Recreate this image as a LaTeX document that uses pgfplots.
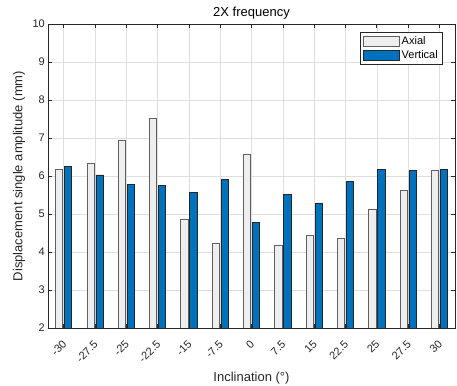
\documentclass[border=0pt]{standalone}
\usepackage{pgfplots}
\pgfplotsset{compat=1.18}
\usepackage{fontspec}
\setmainfont{Liberation Sans}
\definecolor{mblue}{RGB}{0,114,189}
\definecolor{axgray}{RGB}{38,38,38}
\definecolor{lgray}{RGB}{238,238,238}
\definecolor{egray}{RGB}{95,95,95}
\pgfplotsset{boxlegend/.style={legend image code/.code={\draw[##1] (0pt,-5pt) rectangle (36pt,5pt);}}}
\begin{document}
\begin{tikzpicture}
\begin{axis}[name=ax,
  scale only axis, width=407pt, height=304pt,
  xmin=-0.5, xmax=12.5, ymin=2, ymax=10,
  xtick={0,...,12},
  xticklabels={-30,-27.5,-25,-22.5,-15,-7.5,0,7.5,15,22.5,25,27.5,30},
  ytick={2,...,10},
  /pgf/number format/assume math mode=true,
  tick align=inside, major tick length=4pt,
  grid=major, grid style={color=black!13, line width=0.4pt},
  axis line style={color=axgray, line width=0.5pt},
  tick style={color=axgray, line width=0.5pt},
  ticklabel style={font=\fontsize{11}{13}\selectfont, color=axgray},
  xticklabel style={inner sep=0pt, yshift=-14.5pt, xshift=1pt, rotate=45, anchor=east},
  yticklabel style={inner sep=0pt, xshift=-3pt},
  xlabel={Inclination (°)},
  ylabel={Displacement single amplitude (mm)},
  label style={font=\fontsize{13}{15}\selectfont, color=axgray},
  xlabel style={yshift=-5pt},
  ylabel style={yshift=4pt},
  title={2X frequency},
  title style={font=\fontsize{13}{15}\selectfont, color=black, yshift=-5pt},
  legend style={at={(1,1)}, anchor=north east, xshift=-12.5pt, yshift=-8pt,
    draw=axgray, font=\fontsize{11}{13}\selectfont, inner xsep=2pt, inner ysep=1.5pt,
    row sep=0pt, cells={anchor=west}, nodes={inner sep=2.5pt}},
  legend cell align=left,
]
\addplot[ybar, bar width=7.2pt, bar shift=-4.5pt, fill=lgray, draw=egray, line width=0.6pt, boxlegend]
  coordinates {(0,6.18) (1,6.34) (2,6.95) (3,7.53) (4,4.85) (5,4.24) (6,6.56)
               (7,4.18) (8,4.44) (9,4.36) (10,5.12) (11,5.63) (12,6.14)};
\addlegendentry{Axial}
\addplot[ybar, bar width=7.2pt, bar shift=4.5pt, fill=mblue, draw=black!85, line width=0.6pt, boxlegend]
  coordinates {(0,6.25) (1,6.03) (2,5.78) (3,5.76) (4,5.56) (5,5.92) (6,4.78)
               (7,5.52) (8,5.29) (9,5.85) (10,6.17) (11,6.14) (12,6.17)};
\addlegendentry{Vertical}
\node[anchor=south west, font=\fontsize{11}{13}\selectfont, color=axgray, inner sep=1pt]
  at (rel axis cs:0,1) {×10\textsuperscript{-4}};
\end{axis}
\pgfresetboundingbox
\path ([xshift=-48pt,yshift=-58pt]ax.south west) rectangle ([xshift=2pt,yshift=24pt]ax.north east);
\end{tikzpicture}
\end{document}
